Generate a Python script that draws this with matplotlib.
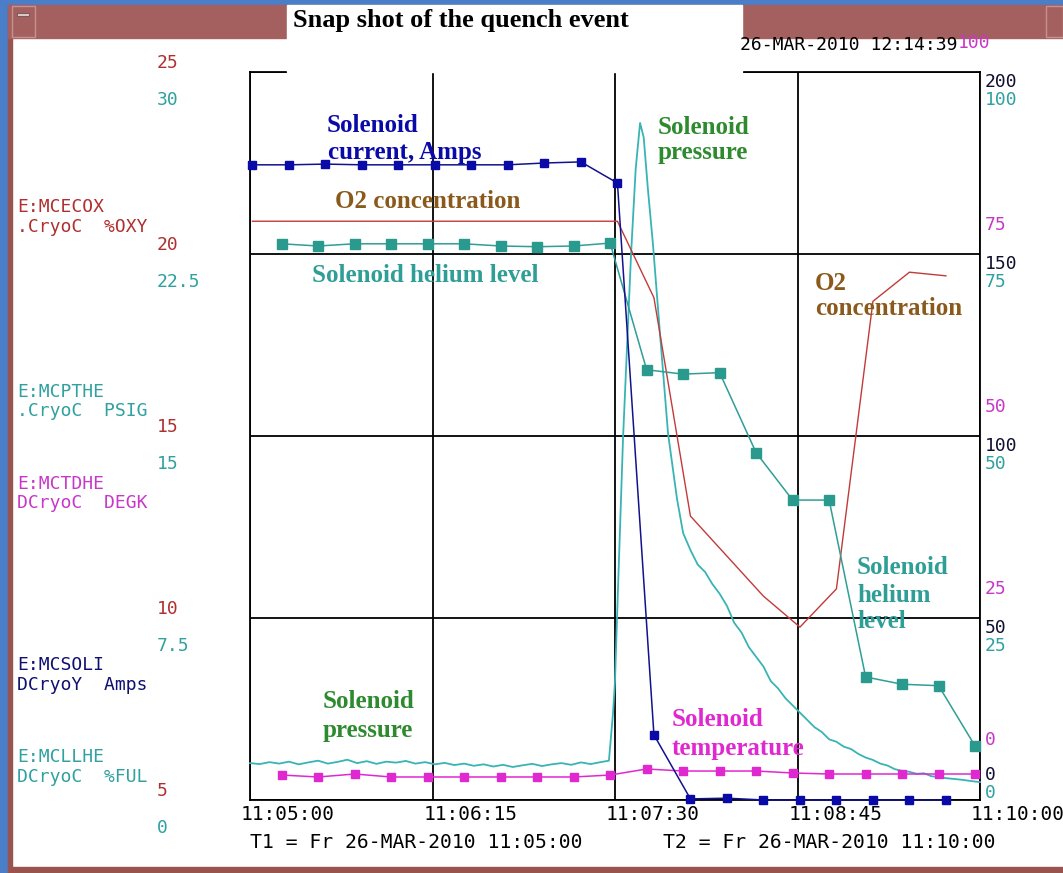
import matplotlib
matplotlib.use("Agg")
import matplotlib.pyplot as plt
from matplotlib import transforms
from matplotlib.patches import Rectangle

W, H = 1063, 873

# time axis: seconds after T1 = 11:05:00
tick_secs = [0, 75, 150, 225, 300]
tick_labels = ["11:05:00", "11:06:15", "11:07:30", "11:08:45", "11:10:00"]

# E:MCSOLI solenoid current (Amps) and E:MCECOX O2 (%OXY), 15 s samples
t_amps = [1, 16, 31, 46, 61, 76, 91, 106, 121, 136,
          151, 166, 181, 196, 211, 226, 241, 256, 271, 286]
amps = [174.5, 174.5, 174.7, 174.5, 174.5, 174.5, 174.5, 174.5, 175.0, 175.3,
        169.5, 17.9, 0.3, 0.5, 0.0, 0.0, 0.0, 0.0, 0.0, 0.0]
o2 = [20.9, 20.9, 20.9, 20.9, 20.9, 20.9, 20.9, 20.9, 20.9, 20.9,
      20.9, 18.8, 12.8, 11.7, 10.6, 9.75, 10.8, 18.7, 19.5, 19.4]

# E:MCLLHE helium level (%FUL) and E:MCTDHE temperature (DEGK)
t_level = [13, 28, 43, 58, 73, 88, 103, 118, 133, 148,
           163, 178, 193, 208, 223, 238, 253, 268, 283, 298]
level = [76.4, 76.1, 76.4, 76.4, 76.4, 76.4, 76.1, 76.0, 76.1, 76.5,
         59.1, 58.5, 58.7, 47.7, 41.2, 41.2, 16.9, 15.9, 15.7, 7.4]
temp = [3.43, 3.16, 3.57, 3.16, 3.16, 3.16, 3.16, 3.16, 3.16, 3.43,
        4.26, 3.98, 3.98, 3.98, 3.71, 3.57, 3.57, 3.57, 3.57, 3.57]

# E:MCPTHE solenoid pressure (PSIG)
t_psig = [0, 4, 8, 12, 16, 20, 24, 28, 32, 36, 40, 44, 48, 52, 56, 60, 64, 68,
          72, 76, 80, 84, 88, 92, 96, 100, 104, 108, 112, 116, 120, 124, 128,
          132, 136, 140, 144, 147.5, 149.2, 150, 150.8, 153.3, 156.6, 158.5,
          160.3, 161.8, 163.5, 165.6, 168.5, 171.8, 175.5, 178, 181, 184, 187,
          190, 193, 196, 199, 202, 205, 208, 211, 214, 217, 220, 223, 226, 229,
          232, 235, 238, 241, 244, 247, 250, 253, 256, 259, 262, 265, 268, 271,
          274, 277, 280, 283, 286, 289, 292, 295, 298, 300]
psig = [1.52, 1.48, 1.56, 1.50, 1.58, 1.47, 1.55, 1.62, 1.50, 1.57, 1.66, 1.52,
        1.60, 1.49, 1.58, 1.54, 1.61, 1.50, 1.56, 1.47, 1.53, 1.44, 1.50, 1.41,
        1.47, 1.38, 1.45, 1.36, 1.43, 1.49, 1.40, 1.47, 1.52, 1.45, 1.55, 1.48,
        1.56, 1.62, 3.6, 4.9, 7.4, 14.9, 22.5, 26.0,
        27.9, 27.3, 25.2, 22.9, 19.2, 15.1, 12.4, 11.0, 10.3, 9.7, 9.4,
        8.9, 8.5, 8.0, 7.3, 6.9, 6.3, 5.9, 5.5, 4.9, 4.6, 4.2, 3.9, 3.6, 3.3,
        3.0, 2.8, 2.5, 2.4, 2.2, 2.1, 1.9, 1.75, 1.65, 1.5, 1.42, 1.27, 1.2, 1.16,
        1.08, 1.1, 0.98, 0.95, 0.9, 0.87, 0.84, 0.8, 0.76, 0.74]

# scale labels of each channel
o2_ticks = [25, 20, 15, 10, 5]
psig_ticks = ["30", "22.5", "15", "7.5", "0"]
temp_ticks = [100, 75, 50, 25, 0]
amps_ticks = [200, 150, 100, 50, 0]
level_ticks = [100, 75, 50, 25, 0]

NAVY = "#12128c"
NAVY_M = "#0a0aa8"
RED = "#c23a3a"
TEAL = "#2f9e96"
CYAN = "#38b4b4"
MAG = "#e028d0"
BROWN = "#8a5a1c"
GREEN = "#2e8a2e"

mono = "DejaVu Sans Mono"
serif = "Liberation Serif"


def fx(x):
    return x / W


def fy(y):
    return 1 - y / H


fig = plt.figure(figsize=(W / 100, H / 100), dpi=100)
fig.patch.set_facecolor("white")

# window frame
fig.patches.append(Rectangle((0, 0), fx(8), 1, transform=fig.transFigure,
                             color="#4a7ec8", zorder=0))
fig.patches.append(Rectangle((0, fy(5)), 1, 5 / H, transform=fig.transFigure,
                             color="#4a7ec8", zorder=0))
fig.patches.append(Rectangle((fx(8), 0), fx(4), fy(5), transform=fig.transFigure,
                             color="#9a5450", zorder=0))
fig.patches.append(Rectangle((fx(8), fy(38)), 1, 33 / H, transform=fig.transFigure,
                             color="#a4605e", zorder=0))
fig.patches.append(Rectangle((fx(12), fy(37)), fx(23), 31 / H, transform=fig.transFigure,
                             facecolor="#a4605e", edgecolor="#c89090", lw=1, zorder=1))
fig.patches.append(Rectangle((fx(17), fy(16)), fx(12), 3 / H, transform=fig.transFigure,
                             facecolor="#d8c8c8", edgecolor="#705050", lw=0.6, zorder=2))
fig.patches.append(Rectangle((fx(1046), fy(37)), fx(17), 31 / H, transform=fig.transFigure,
                             facecolor="#a4605e", edgecolor="#c89090", lw=1, zorder=1))
fig.patches.append(Rectangle((fx(287), fy(72)), fx(455), 67 / H, transform=fig.transFigure,
                             color="white", zorder=5))
fig.patches.append(Rectangle((fx(8), 0), 1, 6 / H, transform=fig.transFigure,
                             color="#9a5450", zorder=0))

rect = [fx(250), fy(800), fx(730), 728 / H]

# grid / frame
ax = fig.add_axes(rect)
ax.set_xlim(0, 300)
ax.set_ylim(0, 200)
ax.set_xticks(tick_secs)
ax.set_yticks(amps_ticks)
ax.grid(True, color="black", lw=1.3)
ax.tick_params(length=0, labelbottom=False, labelleft=False)
for s in ax.spines.values():
    s.set_color("black")
    s.set_linewidth(1.3)


def overlay(lo, hi):
    a = fig.add_axes(rect, frameon=False)
    a.set_xlim(0, 300)
    a.set_ylim(lo, hi)
    a.set_xticks([])
    a.set_yticks([])
    return a


ax_psig = overlay(0, 30)
ax_o2 = overlay(5, 25)
ax_level = overlay(0, 100)
ax_temp = overlay(0, 100)
ax_amps = overlay(0, 200)

ax_psig.plot(t_psig, psig, color=CYAN, lw=1.3, clip_on=False)
ax_o2.plot(t_amps, o2, color=RED, lw=1.0, clip_on=False)
ax_level.plot(t_level, level, color=TEAL, lw=1.1, marker="s", ms=6.5,
              mfc="#2a9a8e", mec="#2a9a8e", clip_on=False)
ax_temp.plot(t_level, temp, color=MAG, lw=1.1, marker="s", ms=6,
             mfc=MAG, mec=MAG, clip_on=False)
ax_amps.plot(t_amps, amps, color=NAVY, lw=1.1, marker="s", ms=6,
             mfc=NAVY_M, mec=NAVY_M, clip_on=False)

# time labels, left aligned a little before each gridline
tr = transforms.offset_copy(ax.get_xaxis_transform(), fig=fig, x=-9, y=0, units="dots")
for t, lab in zip(tick_secs, tick_labels):
    ax.text(t, -15 / 728, lab, transform=tr, ha="left", va="center",
            family=mono, fontsize=14, color="black")

fig.text(fx(250), fy(843), "T1 = Fr 26-MAR-2010 11:05:00", ha="left", va="center",
         family=mono, fontsize=14.2, color="black")
fig.text(fx(663), fy(843), "T2 = Fr 26-MAR-2010 11:10:00", ha="left", va="center",
         family=mono, fontsize=14.2, color="black")


# channel scales
def scale(axis, vals, x_px, dy_px, color, last_dy=None):
    base = transforms.blended_transform_factory(fig.transFigure, axis.transData)
    lo = axis.get_ylim()[0]
    for v in vals:
        d = dy_px
        if last_dy is not None and float(v) == lo:
            d = last_dy
        t = transforms.offset_copy(base, fig=fig, x=0, y=-d, units="dots")
        axis.text(fx(x_px), float(v), str(v), transform=t, ha="left", va="center",
                  family=mono, fontsize=13, color=color)


scale(ax_o2, o2_ticks, 157, -9, "#b03030")
scale(ax_psig, psig_ticks, 157, 28, "#30a0a0")
scale(ax_temp, temp_ticks[1:], 985, -29, "#c838c8", last_dy=-60)
scale(ax_amps, amps_ticks, 985, 10, "#101030", last_dy=-25)
scale(ax_level, level_ticks, 985, 28, "#30a0a0", last_dy=-7)
fig.text(fx(958), fy(43), str(temp_ticks[0]), ha="left", va="center",
         family=mono, fontsize=13, color="#c838c8", zorder=6)

# channel names on the left
names = [
    ("E:MCECOX", 207, "#b03030"), (".CryoC  %OXY", 227, "#b03030"),
    ("E:MCPTHE", 392, "#30a0a0"), (".CryoC  PSIG", 411, "#30a0a0"),
    ("E:MCTDHE", 484, "#c838c8"), ("DCryoC  DEGK", 503, "#c838c8"),
    ("E:MCSOLI", 665, "#101070"), ("DCryoY  Amps", 685, "#101070"),
    ("E:MCLLHE", 757, "#30a0a0"), ("DCryoC  %FUL", 777, "#30a0a0"),
]
for txt, y, c in names:
    fig.text(fx(17), fy(y), txt, ha="left", va="center", family=mono,
             fontsize=13, color=c)

# header
fig.text(fx(461), fy(21), "Snap shot of the quench event", ha="center", va="center",
         family=serif, fontweight="bold", fontsize=19, color="black", zorder=6)
fig.text(fx(740), fy(45), "26-MAR-2010 12:14:39", ha="left", va="center",
         family=mono, fontsize=13, color="black", zorder=6)

# annotations
notes = [
    ("Solenoid", 327, 125, NAVY_M), ("current, Amps", 328, 152, NAVY_M),
    ("O2 concentration", 335, 201, BROWN),
    ("Solenoid helium level", 312, 276, TEAL),
    ("Solenoid", 658, 127, GREEN), ("pressure", 658, 153, GREEN),
    ("O2", 815, 283, BROWN), ("concentration", 815, 308, BROWN),
    ("Solenoid", 857, 568, TEAL), ("helium", 857, 595, TEAL), ("level", 857, 622, TEAL),
    ("Solenoid", 323, 702, GREEN), ("pressure", 323, 730, GREEN),
    ("Solenoid", 672, 720, MAG), ("temperature", 672, 748, MAG),
]
for txt, x, y, c in notes:
    fig.text(fx(x), fy(y), txt, ha="left", va="center", family=serif,
             fontweight="bold", fontsize=18, color=c, zorder=7)

fig.savefig("out.png", dpi=100)
